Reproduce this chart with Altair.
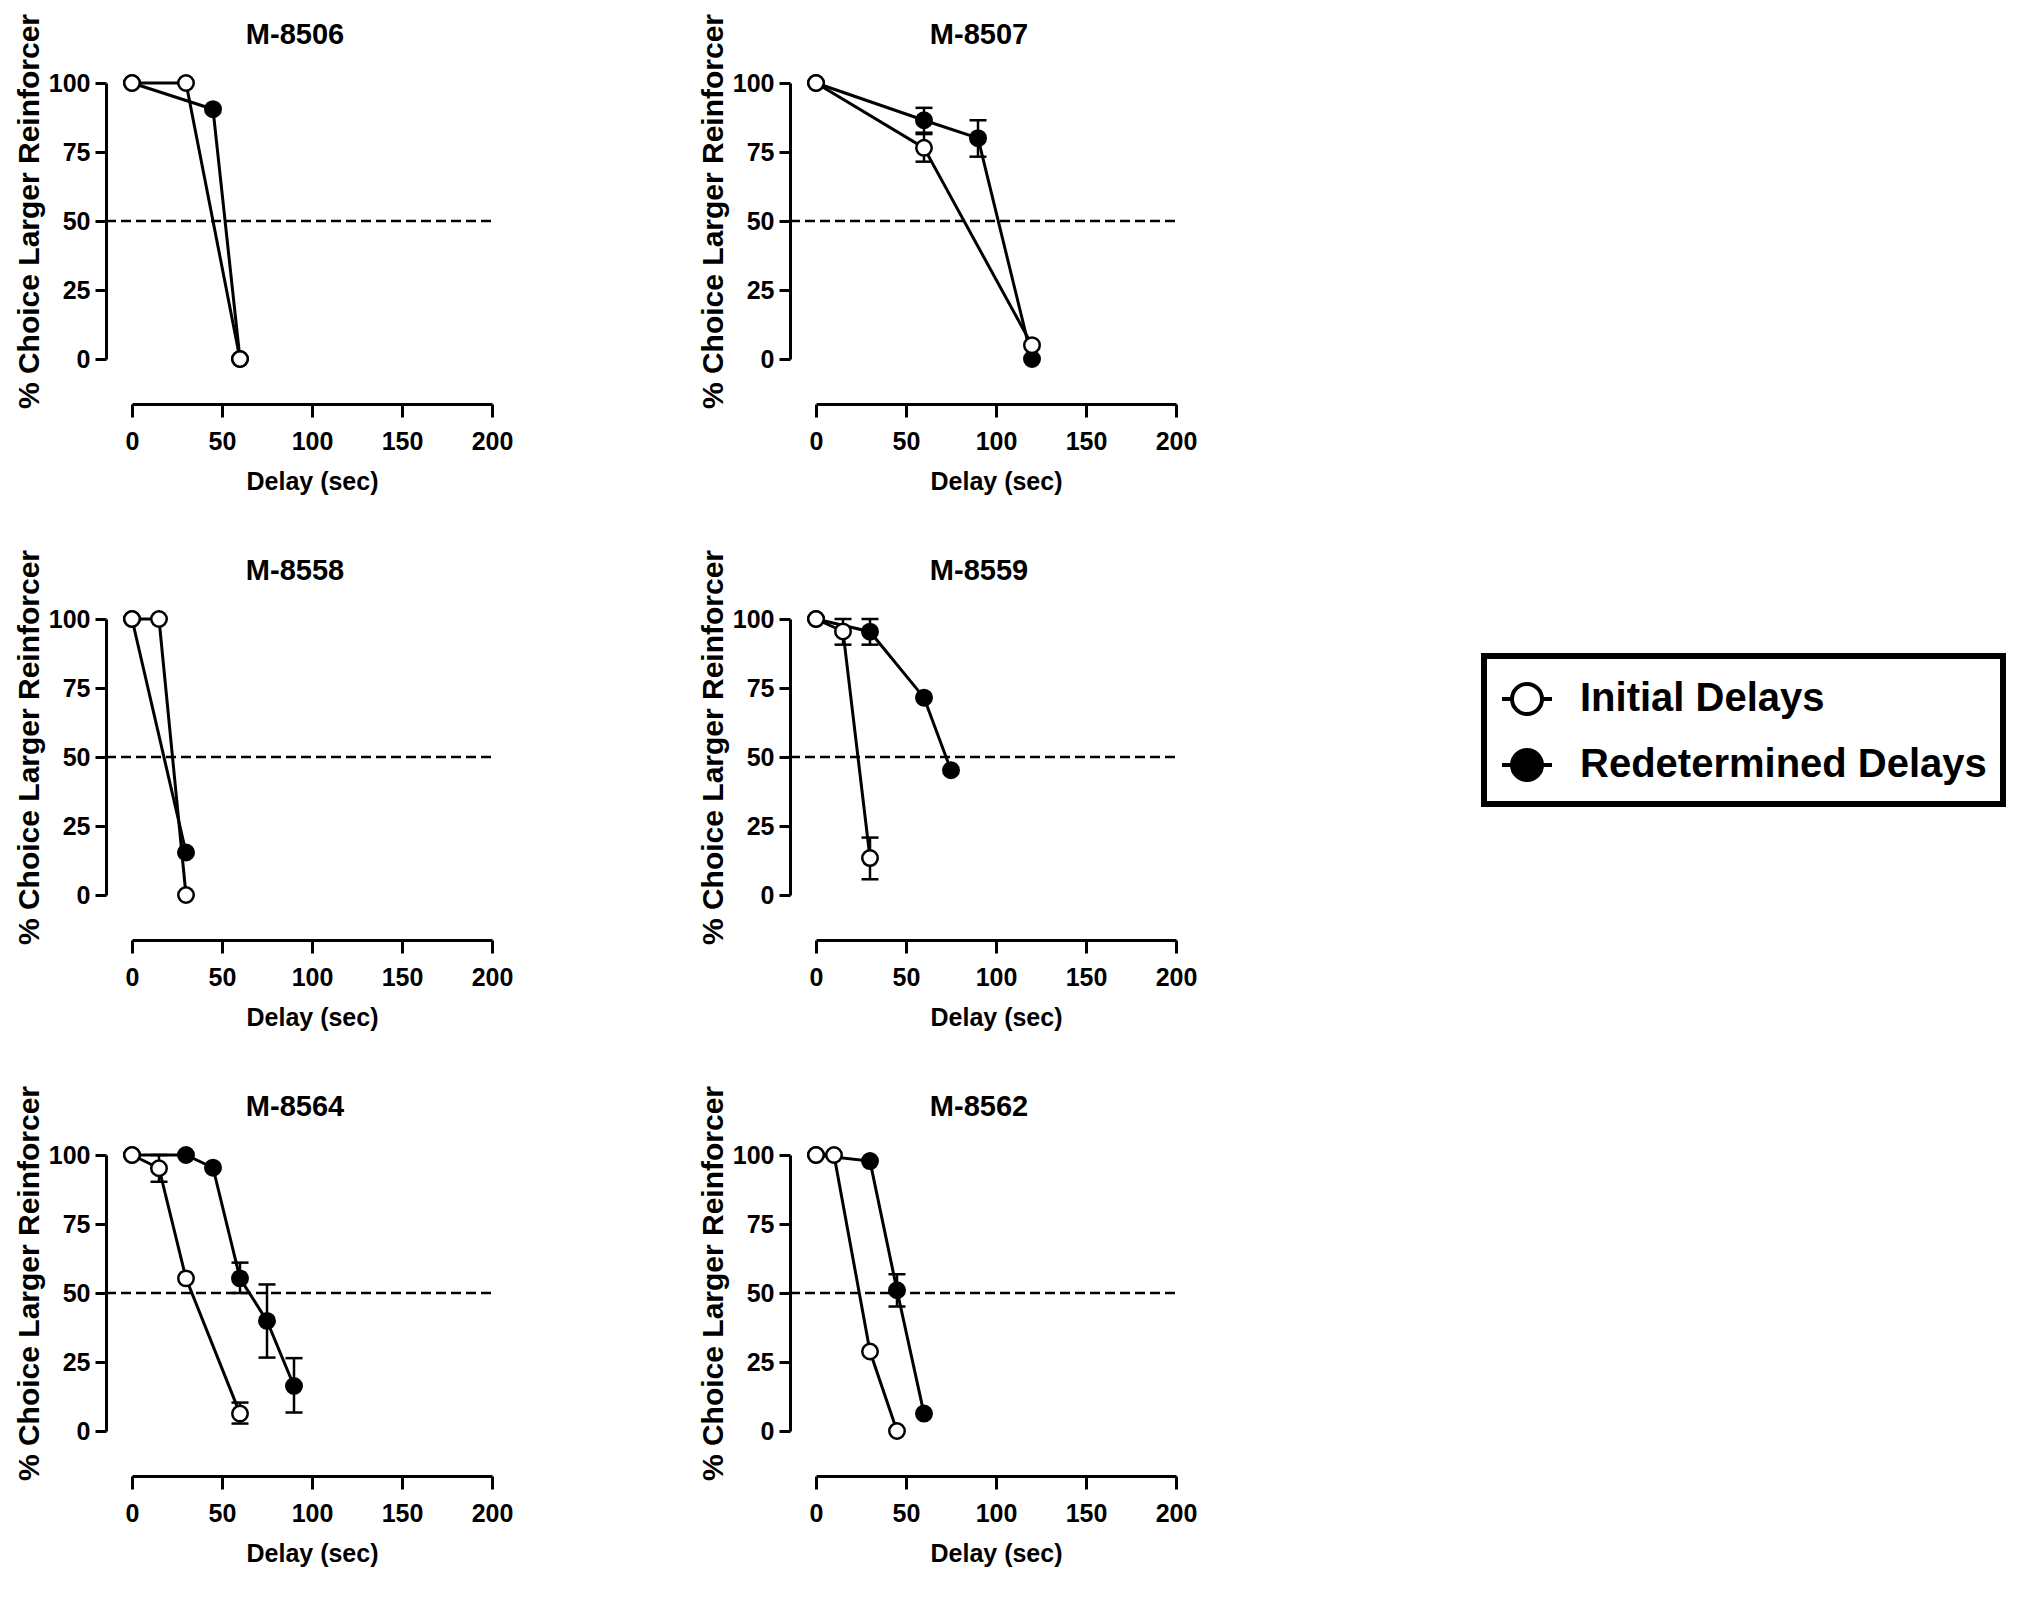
import altair as alt
import pandas as pd

panel_names = ["M-8506", "M-8507", "M-8558", "M-8559", "M-8564", "M-8562"]
series_names = ["Initial Delays", "Redetermined Delays"]
x_ticks = [0, 50, 100, 150, 200]
y_ticks = [0, 25, 50, 75, 100]
indifference = [50]

# M-8506
m8506_init_delay = [0, 30, 60]
m8506_init_pct = [100, 100, 0]
m8506_red_delay = [0, 45, 60]
m8506_red_pct = [100, 90.5, 0]
m8506_err_series = []
m8506_err_delay = []
m8506_err_lo = []
m8506_err_hi = []

# M-8507
m8507_init_delay = [0, 60, 120]
m8507_init_pct = [100, 76.5, 5]
m8507_red_delay = [0, 60, 90, 120]
m8507_red_pct = [100, 86.5, 80, 0]
m8507_err_series = ["Initial Delays", "Redetermined Delays", "Redetermined Delays"]
m8507_err_delay = [60, 60, 90]
m8507_err_lo = [71.5, 82, 73.3]
m8507_err_hi = [81.5, 91, 86.5]

# M-8558
m8558_init_delay = [0, 15, 30]
m8558_init_pct = [100, 100, 0]
m8558_red_delay = [0, 30]
m8558_red_pct = [100, 15.4]
m8558_err_series = []
m8558_err_delay = []
m8558_err_lo = []
m8558_err_hi = []

# M-8559
m8559_init_delay = [0, 15, 30]
m8559_init_pct = [100, 95.5, 13.4]
m8559_red_delay = [0, 30, 60, 75]
m8559_red_pct = [100, 95.4, 71.5, 45.2]
m8559_err_series = ["Initial Delays", "Initial Delays", "Redetermined Delays"]
m8559_err_delay = [15, 30, 30]
m8559_err_lo = [90.7, 5.7, 90.7]
m8559_err_hi = [100, 20.8, 100]

# M-8564
m8564_init_delay = [0, 15, 30, 60]
m8564_init_pct = [100, 95.2, 55.3, 6.3]
m8564_red_delay = [0, 30, 45, 60, 75, 90]
m8564_red_pct = [100, 100, 95.4, 55.3, 39.9, 16.3]
m8564_err_series = ["Initial Delays", "Initial Delays", "Redetermined Delays",
                    "Redetermined Delays", "Redetermined Delays"]
m8564_err_delay = [15, 60, 60, 75, 90]
m8564_err_lo = [90.3, 2.7, 50, 26.6, 6.7]
m8564_err_hi = [100, 10.3, 61, 53.1, 26.4]

# M-8562
m8562_init_delay = [0, 10, 30, 45]
m8562_init_pct = [100, 100, 28.8, 0]
m8562_red_delay = [0, 30, 45, 60]
m8562_red_pct = [100, 97.8, 51, 6.3]
m8562_err_series = ["Redetermined Delays"]
m8562_err_delay = [45]
m8562_err_lo = [45.1]
m8562_err_hi = [56.8]

FONT = "Liberation Sans, Arial, Helvetica, sans-serif"
W, H = 360, 276
Y_OFF, X_OFF = 26, 45

x_axis = alt.Axis(values=x_ticks, offset=X_OFF, tickSize=13, tickWidth=3, domainWidth=3,
                  labelFont=FONT, labelFontSize=25, labelFontWeight="bold", labelPadding=12,
                  labelFlush=False, title="Delay (sec)", titleFont=FONT, titleFontSize=25,
                  titleFontWeight="bold", titlePadding=15, grid=False)
y_axis = alt.Axis(values=y_ticks, offset=Y_OFF, tickSize=11, tickWidth=3, domainWidth=3,
                  labelFont=FONT, labelFontSize=25, labelFontWeight="bold", labelPadding=5,
                  title="% Choice Larger Reinforcer", titleFont=FONT, titleFontSize=30,
                  titleFontWeight="bold", titlePadding=4, titleY=128, grid=False)
x_scale = alt.Scale(domain=[0, 200], nice=False, zero=False)
y_scale = alt.Scale(domain=[0, 100], nice=False, zero=False)

sym_path = ("M-1,0L-0.6,0M0.6,0L1,0"
            "M-0.6,0A0.6,0.6,0,1,1,0.6,0A0.6,0.6,0,1,1,-0.6,0Z")
legend = alt.Legend(title=None, orient="none", legendX=1352, legendY=573,
                    symbolType=sym_path, symbolSize=2500, symbolStrokeWidth=4,
                    symbolStrokeColor="black", symbolOpacity=1,
                    labelFont=FONT, labelFontSize=40, labelFontWeight="bold",
                    labelColor="black", labelOffset=26, rowPadding=16, padding=16,
                    strokeColor="black", labelLimit=0)


def panel(name, init_d, init_p, red_d, red_p, e_s, e_d, e_lo, e_hi):
    rows = []
    for d, p in zip(red_d, red_p):
        rows.append({"delay": d, "pct": p, "series": series_names[1]})
    for d, p in zip(init_d, init_p):
        rows.append({"delay": d, "pct": p, "series": series_names[0]})
    df = pd.DataFrame(rows)
    X = alt.X("delay:Q", scale=x_scale, axis=x_axis)
    layers = []
    ref = alt.Chart(pd.DataFrame({"ref": indifference})).mark_rule(
        color="black", strokeWidth=2.5, strokeDash=[10, 5]
    ).encode(y=alt.Y("ref:Q", scale=y_scale, axis=y_axis),
             x=alt.value(-Y_OFF), x2=alt.value(W))
    layers.append(ref)
    if e_d:
        edf = pd.DataFrame({"delay": e_d, "lo": e_lo, "hi": e_hi, "series": e_s})
        eb = alt.Chart(edf)
        layers.append(eb.mark_rule(color="black", strokeWidth=2.5).encode(
            x=X, y=alt.Y("lo:Q", scale=y_scale, axis=y_axis), y2="hi:Q"))
        layers.append(eb.mark_tick(color="black", thickness=2.5, size=17, orient="horizontal",
                                   opacity=1).encode(
            x=X, y=alt.Y("lo:Q", scale=y_scale, axis=y_axis)))
        layers.append(eb.mark_tick(color="black", thickness=2.5, size=17, orient="horizontal",
                                   opacity=1).encode(
            x=X, y=alt.Y("hi:Q", scale=y_scale, axis=y_axis)))
    base = alt.Chart(df)
    layers.append(base.mark_line(color="black", strokeWidth=3).encode(
        x=X, y=alt.Y("pct:Q", scale=y_scale, axis=y_axis), detail="series:N"))
    layers.append(base.mark_point(shape="circle", filled=True, size=240, stroke="black",
                                  strokeWidth=2.5, opacity=1).encode(
        x=X, y=alt.Y("pct:Q", scale=y_scale, axis=y_axis),
        fill=alt.Fill("series:N", scale=alt.Scale(domain=series_names, range=["white", "black"]),
                      legend=legend)))
    title = alt.Chart(pd.DataFrame({"name": [name]})).mark_text(
        font=FONT, fontSize=29, fontWeight="bold", color="black", align="center",
        baseline="alphabetic"
    ).encode(text="name:N", x=alt.value(W / 2 - 17), y=alt.value(-39))
    layers.append(title)
    return alt.layer(*layers).properties(width=W, height=H)


p = {}
p["M-8506"] = panel("M-8506", m8506_init_delay, m8506_init_pct, m8506_red_delay, m8506_red_pct,
                    m8506_err_series, m8506_err_delay, m8506_err_lo, m8506_err_hi)
p["M-8507"] = panel("M-8507", m8507_init_delay, m8507_init_pct, m8507_red_delay, m8507_red_pct,
                    m8507_err_series, m8507_err_delay, m8507_err_lo, m8507_err_hi)
p["M-8558"] = panel("M-8558", m8558_init_delay, m8558_init_pct, m8558_red_delay, m8558_red_pct,
                    m8558_err_series, m8558_err_delay, m8558_err_lo, m8558_err_hi)
p["M-8559"] = panel("M-8559", m8559_init_delay, m8559_init_pct, m8559_red_delay, m8559_red_pct,
                    m8559_err_series, m8559_err_delay, m8559_err_lo, m8559_err_hi)
p["M-8564"] = panel("M-8564", m8564_init_delay, m8564_init_pct, m8564_red_delay, m8564_red_pct,
                    m8564_err_series, m8564_err_delay, m8564_err_lo, m8564_err_hi)
p["M-8562"] = panel("M-8562", m8562_init_delay, m8562_init_pct, m8562_red_delay, m8562_red_pct,
                    m8562_err_series, m8562_err_delay, m8562_err_lo, m8562_err_hi)

rows = [alt.hconcat(p[panel_names[i]], p[panel_names[i + 1]], spacing=185)
        for i in (0, 2, 4)]

chart = alt.vconcat(*rows, spacing=55).configure_view(stroke=None).configure_axis(
    domainColor="black", tickColor="black", labelColor="black", titleColor="black"
).configure_legend(strokeWidth=6).properties(
    background="white", padding={"left": 6, "top": 5, "right": 0, "bottom": 5})

chart.save("out.html", embed_options={"renderer": "svg", "actions": False})
